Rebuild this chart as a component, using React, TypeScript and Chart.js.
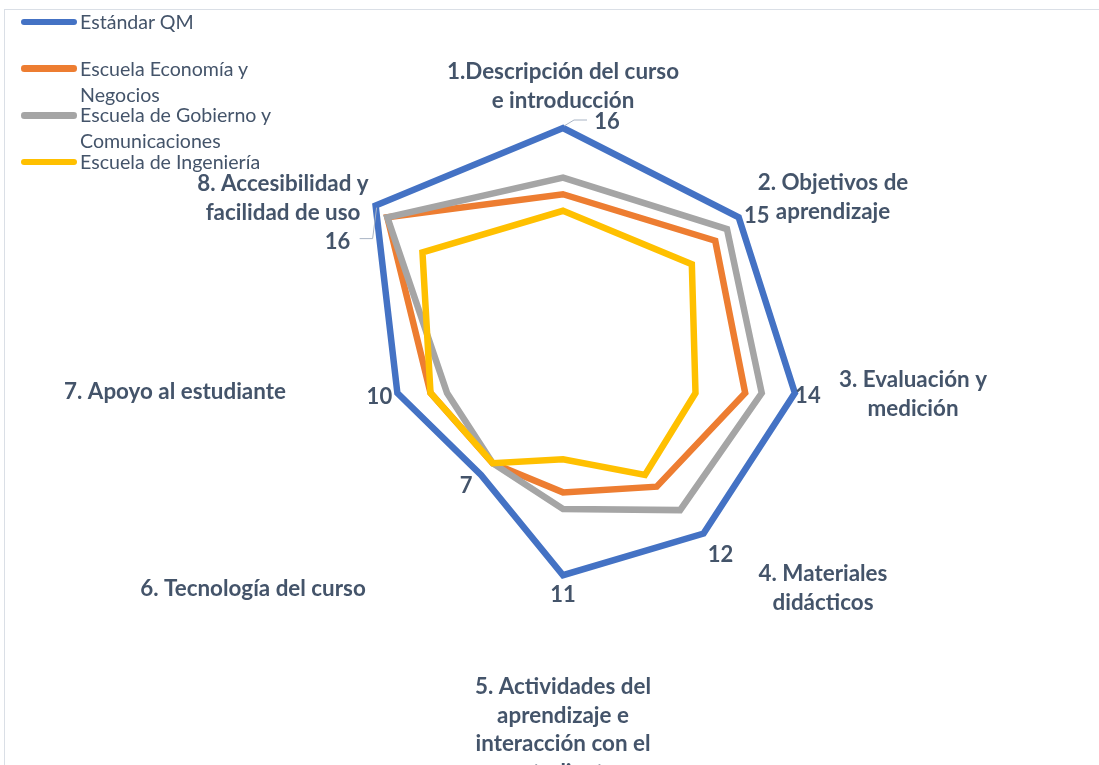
import React, { useEffect, useRef } from "react";
import { Chart, registerables } from "chart.js";

Chart.register(...registerables);

// ---- data ----
const categories: string[][] = [
  ["1.Descripción del curso", "e introducción"],
  ["2. Objetivos de", "aprendizaje"],
  ["3. Evaluación y", "medición"],
  ["4. Materiales", "didácticos"],
  ["5. Actividades del", "aprendizaje e", "interacción con el", "estudiante"],
  ["6. Tecnología del curso"],
  ["7. Apoyo al estudiante"],
  ["8. Accesibilidad y", "facilidad de uso"],
];
const seriesNames = [
  "Estándar QM",
  "Escuela Economía y Negocios",
  "Escuela de Gobierno y Comunicaciones",
  "Escuela de Ingeniería",
];
const legendLines: string[][] = [
  ["Estándar QM"],
  ["Escuela Economía y", "Negocios"],
  ["Escuela de Gobierno y", "Comunicaciones"],
  ["Escuela de Ingeniería"],
];
const estandarQM = [16, 15, 14, 12, 11, 7, 10, 16];
const economiaNegocios = [12, 13, 11, 8, 6, 6, 8, 15];
const gobiernoComunicaciones = [13, 14, 12, 10, 7, 6, 7, 15];
const ingenieria = [11, 11, 8, 7, 4, 6, 8, 12];
const axisMin = 0;
const axisMax = 16;

// ---- styles / layout ----
const seriesColors = ["#4472C4", "#ED7D31", "#A5A5A5", "#FFC000"];
const textColor = "#44546A";
const fontFamily = "Lato, 'Open Sans', sans-serif";
const catFontSize = 22.4;
const catLineHeight = 28.5;
const valueFontSize = 22;
// category label first-line centre, relative to the radar centre
const categoryLabelOffsets = [
  [0, -321],
  [270, -210],
  [350, -13],
  [260, 181],
  [0, 294],
  [-310, 196],
  [-388, -1],
  [-280, -209],
];
// value label centre, relative to its vertex
const valueLabelOffsets = [
  [44, -6],
  [18, -1],
  [13, 3],
  [17, 21],
  [0, 20],
  [-15, 11],
  [-18, 4],
  [-38, 36],
];
// leader lines (relative to vertex)
const leaderLines: Record<number, number[][]> = {
  0: [[1, -2], [11, -8], [24, -8]],
  7: [[1, 2], [-3, 33], [-16, 33]],
};

const labelsPlugin = {
  id: "customLabels",
  afterDatasetsDraw(chart: any) {
    const ctx = chart.ctx as CanvasRenderingContext2D;
    const scale = chart.scales.r;
    const cx = scale.xCenter;
    const cy = scale.yCenter;
    ctx.save();
    ctx.fillStyle = textColor;
    ctx.textAlign = "center";
    ctx.textBaseline = "middle";
    ctx.font = `bold ${catFontSize}px ${fontFamily}`;
    categories.forEach((lines, i) => {
      const [dx, dy] = categoryLabelOffsets[i];
      lines.forEach((l, j) => ctx.fillText(l, cx + dx, cy + dy + j * catLineHeight));
    });

    const meta = chart.getDatasetMeta(0);
    // leader lines
    ctx.strokeStyle = "#A9B4C4";
    ctx.lineWidth = 1;
    Object.keys(leaderLines).forEach((k) => {
      const idx = Number(k);
      const el = meta.data[idx];
      const pts = leaderLines[idx];
      ctx.beginPath();
      pts.forEach(([dx, dy], j) => {
        if (j === 0) ctx.moveTo(el.x + dx, el.y + dy);
        else ctx.lineTo(el.x + dx, el.y + dy);
      });
      ctx.stroke();
    });

    ctx.font = `bold ${valueFontSize}px ${fontFamily}`;
    ctx.fillStyle = textColor;
    meta.data.forEach((el: any, i: number) => {
      const [dx, dy] = valueLabelOffsets[i];
      ctx.fillText(String(estandarQM[i]), el.x + dx, el.y + dy);
    });
    ctx.restore();
  },
};

export default function App() {
  const canvasRef = useRef<HTMLCanvasElement | null>(null);

  useEffect(() => {
    if (!canvasRef.current) return;
    const allSeries = [estandarQM, economiaNegocios, gobiernoComunicaciones, ingenieria];
    const chart = new Chart(canvasRef.current, {
      type: "radar",
      data: {
        labels: categories.map((c) => c.join(" ")),
        datasets: allSeries.map((d, i) => ({
          label: seriesNames[i],
          data: d,
          borderColor: seriesColors[i],
          backgroundColor: "transparent",
          fill: false,
          borderWidth: 6.5,
          borderJoinStyle: "miter" as const,
          pointRadius: 0,
          pointHoverRadius: 0,
          order: allSeries.length - 1 - i,
        })),
      },
      options: {
        animation: false,
        responsive: false,
        devicePixelRatio: 1,
        layout: { padding: { left: 298, right: 271, top: 128, bottom: 107 } },
        plugins: {
          legend: { display: false },
          tooltip: { enabled: false },
          title: { display: false },
        },
        scales: {
          r: {
            min: axisMin,
            max: axisMax,
            grid: { display: false },
            angleLines: { display: false },
            ticks: { display: false },
            pointLabels: { display: false },
          },
        },
      },
      plugins: [labelsPlugin],
    });
    return () => chart.destroy();
  }, []);

  const entrySpacing = 46.7;
  return (
    <div
      style={{
        position: "fixed",
        left: 0,
        top: 0,
        width: 1099,
        height: 765,
        overflow: "hidden",
        background: "#ffffff",
      }}
    >
      <canvas
        ref={canvasRef}
        width={1099}
        height={765}
        style={{ position: "absolute", left: 0, top: 0, width: 1099, height: 765 }}
      />
      <div
        style={{
          position: "absolute",
          left: 4,
          top: 9,
          width: 1300,
          height: 1000,
          border: "1.5px solid #DADFE6",
          pointerEvents: "none",
        }}
      />
      {legendLines.map((lines, i) => {
        const cy = 22 + entrySpacing * i;
        return (
          <React.Fragment key={i}>
            <div
              style={{
                position: "absolute",
                left: 21,
                top: cy - 3.25,
                width: 56,
                height: 6.5,
                borderRadius: 3.25,
                background: seriesColors[i],
              }}
            />
            <div
              style={{
                position: "absolute",
                left: 80,
                top: cy - 13,
                lineHeight: "26px",
                fontSize: 19.6,
                fontFamily,
                color: textColor,
                whiteSpace: "nowrap",
              }}
            >
              {lines.map((l, j) => (
                <div key={j}>{l}</div>
              ))}
            </div>
          </React.Fragment>
        );
      })}
    </div>
  );
}
